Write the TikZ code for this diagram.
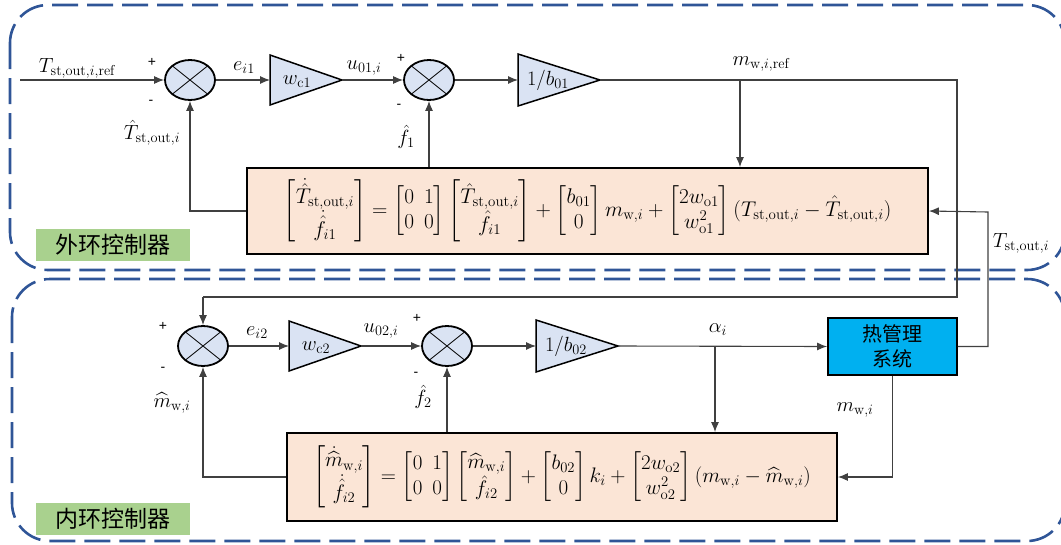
\RequirePackage{fix-cm}
\documentclass[tikz,border=0pt]{standalone}
\usepackage{amsmath}
\usepackage{fontspec}
\newfontfamily\cjk{Noto Sans CJK SC}
\newfontfamily\signfont{Liberation Sans}
\usetikzlibrary{arrows.meta,shapes.geometric,calc}
\definecolor{dashblue}{RGB}{47,85,151}
\definecolor{sumfill}{RGB}{218,227,243}
\definecolor{peach}{RGB}{251,229,214}
\definecolor{lgreen}{RGB}{169,209,142}
\definecolor{cyanbox}{RGB}{0,176,240}
\tikzset{
  region/.style={draw=dashblue, line width=2.6pt, dash pattern=on 26pt off 9pt, rounded corners=38pt},
  sumnode/.style={ellipse, draw, line width=1.8pt, fill=sumfill, minimum width=50pt, minimum height=40pt, inner sep=0pt,
    path picture={\draw[line width=0.8pt] (path picture bounding box.north west) -- (path picture bounding box.south east)
      (path picture bounding box.north east) -- (path picture bounding box.south west);}},
  gain/.style={draw, line width=1.5pt, fill=sumfill, line join=miter},
  conn/.style={draw=black!75, line width=1.1pt},
  arr/.style={-{Latex[length=10pt,width=8pt]}},
  eqbox/.style={draw, line width=1.8pt, fill=peach, inner sep=0pt},
  lbl/.style={font=\fontsize{20.5}{24}\selectfont, inner sep=0pt},
  sign/.style={font=\signfont\fontsize{14}{16}\selectfont, inner sep=0pt},
  tag/.style={fill=lgreen, minimum width=154pt, minimum height=32pt, inner sep=0pt, font=\cjk\fontsize{23}{26}\selectfont},
  heatbox/.style={draw, line width=1.8pt, fill=cyanbox, minimum width=129pt, minimum height=57pt, inner sep=0pt, align=center, font=\cjk\fontsize{20}{25}\selectfont}
}
\begin{document}
\begin{tikzpicture}[x=1pt,y=-1pt]
\useasboundingbox (0,0) rectangle (1061,544);
% regions
\draw[region] (10,5) rectangle (1065,270);
\draw[region] (12,279) rectangle (1065,541);
% ---------- outer loop ----------
\coordinate (in1) at (20,80);
\node[sumnode] (sum1) at (190,80) {};
\draw[gain] (270,55) -- (342,80) -- (270,105) -- cycle;
\coordinate (t1l) at (270,80);
\coordinate (t1r) at (342,80);
\node[lbl] (g1) at (297,82) {$w_{\mathrm{c}1}$};
\node[sumnode] (sum2) at (429,80) {};
\draw[gain] (518,54) -- (600,80) -- (518,106) -- cycle;
\coordinate (t2l) at (518,80);
\coordinate (t2r) at (600,80);
\node[lbl] (g2) at (548,80) {$1/b_{01}$};
\coordinate (b1) at (740,80);
\coordinate (c1) at (957,80);
\coordinate (c2) at (957,297);
\coordinate (c3) at (203,297);
\node[eqbox, minimum width=681pt, minimum height=86pt] (eq1) at (587.5,211) {\fontsize{21.3}{25}\selectfont$\displaystyle
\begin{bmatrix}\dot{\hat T}_{\mathrm{st,out},i}\\ \dot{\hat f}_{i1}\end{bmatrix}
=\begin{bmatrix}0&1\\0&0\end{bmatrix}
\begin{bmatrix}\hat T_{\mathrm{st,out},i}\\ \hat f_{i1}\end{bmatrix}
+\begin{bmatrix}b_{01}\\0\end{bmatrix}m_{\mathrm{w},i}
+\begin{bmatrix}2w_{\mathrm{o}1}\\ w_{\mathrm{o}1}^2\end{bmatrix}
(T_{\mathrm{st,out},i}-\hat T_{\mathrm{st,out},i})$};
\node[tag] (tag1) at (113,245) {外环控制器};
% ---------- inner loop ----------
\node[sumnode] (sum3) at (203,346) {};
\draw[gain] (289,321) -- (361,346) -- (289,371) -- cycle;
\coordinate (t3l) at (289,346);
\coordinate (t3r) at (361,346);
\node[lbl] (g3) at (316,348) {$w_{\mathrm{c}2}$};
\node[sumnode] (sum4) at (447,346) {};
\draw[gain] (536,320) -- (618,346) -- (536,372) -- cycle;
\coordinate (t4l) at (536,346);
\coordinate (t4r) at (618,346);
\node[lbl] (g4) at (566,346) {$1/b_{02}$};
\coordinate (b2) at (715,346);
\node[heatbox] (heat) at (892.5,346.5) {热管理\\系统};
\coordinate (cT) at (988,212);
\node[eqbox, minimum width=550pt, minimum height=88pt] (eq2) at (562,477) {\fontsize{21}{25}\selectfont$\displaystyle
\begin{bmatrix}\dot{\widehat m}_{\mathrm{w},i}\\ \dot{\hat f}_{i2}\end{bmatrix}
=\begin{bmatrix}0&1\\0&0\end{bmatrix}
\begin{bmatrix}\widehat m_{\mathrm{w},i}\\ \hat f_{i2}\end{bmatrix}
+\begin{bmatrix}b_{02}\\0\end{bmatrix}k_i
+\begin{bmatrix}2w_{\mathrm{o}2}\\ w_{\mathrm{o}2}^2\end{bmatrix}
(m_{\mathrm{w},i}-\widehat m_{\mathrm{w},i})$};
\node[tag] (tag2) at (113,519) {内环控制器};
% ---------- connectors outer ----------
\draw[conn,arr] (in1) -- (sum1.west);
\draw[conn,arr] (sum1.east) -- (t1l);
\draw[conn,arr] (t1r) -- (sum2.west);
\draw[conn,arr] (sum2.east) -- (t2l);
\draw[conn] (t2r) -- (c1) -- (c2) -- (c3);
\draw[conn,arr] (c3) -- (sum3.north);
\draw[conn,arr] (b1) -- (b1 |- eq1.north);
\draw[conn,arr] (eq1.west) -| (sum1.south);
\draw[conn,arr] (sum2.south |- eq1.north) -- (sum2.south);
\draw[conn,arr] (heat.east) -| (cT) -- (eq1.east);
% ---------- connectors inner ----------
\draw[conn,arr] (sum3.east) -- (t3l);
\draw[conn,arr] (t3r) -- (sum4.west);
\draw[conn,arr] (sum4.east) -- (t4l);
\draw[conn,arr] (t4r) -- (heat.west);
\draw[conn,arr] (b2) -- (b2 |- eq2.north);
\draw[conn,arr] (heat.south) |- (eq2.east);
\draw[conn,arr] (eq2.west) -| (sum3.south);
\draw[conn,arr] (sum4.south |- eq2.north) -- (sum4.south);
% ---------- labels ----------
\node[lbl] (lTref) at (77,68) {$T_{\mathrm{st,out},i,\mathrm{ref}}$};
\node[sign] (p1) at (152,62) {+};
\node[sign] (m1) at (151,102) {-};
\node[lbl] (lThat) at (152,133) {$\hat T_{\mathrm{st,out},i}$};
\node[lbl] (le1) at (244,68) {$e_{i1}$};
\node[lbl] (lu1) at (364,68) {$u_{01,i}$};
\node[sign] (p2) at (401,58) {+};
\node[sign] (m2) at (399,106) {-};
\node[lbl] (lf1) at (406,137) {$\hat f_1$};
\node[lbl] (lmref) at (761,64) {$m_{\mathrm{w},i,\mathrm{ref}}$};
\node[lbl] (lT) at (1021,243) {$T_{\mathrm{st,out},i}$};
\node[sign] (p3) at (163,326) {+};
\node[sign] (m3) at (163,369) {-};
\node[lbl] (lmhat) at (172,403) {$\widehat m_{\mathrm{w},i}$};
\node[lbl] (le2) at (257,333) {$e_{i2}$};
\node[lbl] (lu2) at (381,331) {$u_{02,i}$};
\node[sign] (p4) at (417,318) {+};
\node[sign] (m4) at (416,374) {-};
\node[lbl] (lf2) at (423,397) {$\hat f_2$};
\node[lbl] (lal) at (718,330) {$\alpha_i$};
\node[lbl] (lmw) at (855,410) {$m_{\mathrm{w},i}$};
\end{tikzpicture}
\end{document}
